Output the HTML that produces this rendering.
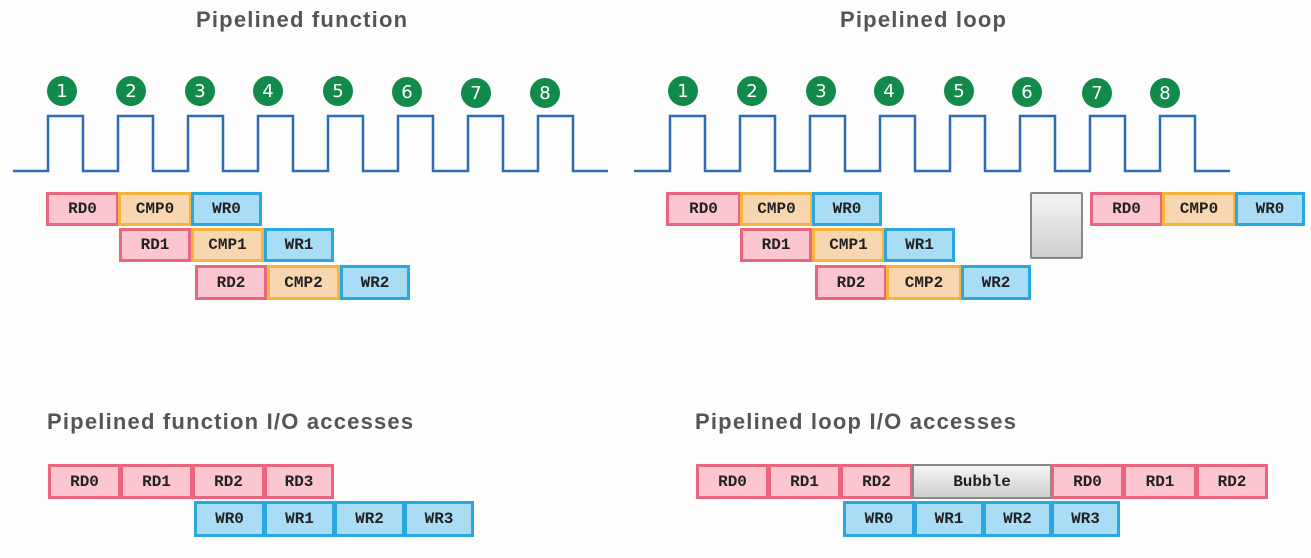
<!DOCTYPE html>
<html><head><meta charset="utf-8"><style>
body{margin:0;width:1311px;height:558px;background:#fdfdfd;position:relative;overflow:hidden;font-family:"Liberation Sans",sans-serif}
.t{position:absolute;font-weight:bold;font-size:22px;letter-spacing:1.2px;color:#555;white-space:nowrap}
.b{position:absolute;box-sizing:border-box;border:3px solid;display:flex;align-items:center;justify-content:center;font-family:"Liberation Mono",monospace;font-weight:bold;font-size:16px;color:#222}
.r{background:#fcc6d0;border-color:#ea6680}
.o{background:#f8d6b0;border-color:#f7b43a}
.w{background:#a9dcf5;border-color:#2aa6e0}
.g{background:linear-gradient(#f4f4f4,#cfcfcf);border:2px solid #888;border-radius:2px}
</style></head><body>
<div class="t" style="left:196px;top:7px">Pipelined function</div>
<div class="t" style="left:840px;top:7px">Pipelined loop</div>
<div class="t" style="left:47px;top:409px">Pipelined function I/O accesses</div>
<div class="t" style="left:695px;top:409px">Pipelined loop I/O accesses</div>
<svg width="1311" height="558" style="position:absolute;left:0;top:0">
<g fill="none" stroke="#2f6db0" stroke-width="2.5">
<path d="M13 171 H48 V116 H83 V171 H118 V116 H153 V171 H188 V116 H223 V171 H258 V116 H293 V171 H328 V116 H363 V171 H398 V116 H433 V171 H468 V116 H503 V171 H538 V116 H573 V171 H608"/>
<path d="M634 171 H670 V116 H705 V171 H740 V116 H775 V171 H810 V116 H845 V171 H880 V116 H915 V171 H950 V116 H985 V171 H1020 V116 H1055 V171 H1090 V116 H1125 V171 H1160 V116 H1195 V171 H1230"/>
</g>
<g fill="#118a4a">
<circle cx="62" cy="91" r="15"/><circle cx="131" cy="91" r="15"/><circle cx="200" cy="91" r="15"/><circle cx="268" cy="91" r="15"/><circle cx="338" cy="91" r="15"/><circle cx="407" cy="92" r="15"/><circle cx="476" cy="93" r="15"/><circle cx="545" cy="93" r="15"/>
<circle cx="683" cy="91" r="15"/><circle cx="752" cy="91" r="15"/><circle cx="821" cy="91" r="15"/><circle cx="889" cy="91" r="15"/><circle cx="959" cy="91" r="15"/><circle cx="1027" cy="92" r="15"/><circle cx="1097" cy="93" r="15"/><circle cx="1165" cy="93" r="15"/>
</g>
<g fill="#fff" font-family="DejaVu Sans,sans-serif" font-size="18" text-anchor="middle">
<text x="62" y="97">1</text><text x="131" y="97">2</text><text x="200" y="97">3</text><text x="268" y="97">4</text><text x="338" y="97">5</text><text x="407" y="98">6</text><text x="476" y="99">7</text><text x="545" y="99">8</text>
<text x="683" y="97">1</text><text x="752" y="97">2</text><text x="821" y="97">3</text><text x="889" y="97">4</text><text x="959" y="97">5</text><text x="1027" y="98">6</text><text x="1097" y="99">7</text><text x="1165" y="99">8</text>
</g>
</svg>
<div class="b r" style="left:46px;top:192px;width:73px;height:34px">RD0</div>
<div class="b o" style="left:118px;top:192px;width:74px;height:34px">CMP0</div>
<div class="b w" style="left:191px;top:192px;width:71px;height:34px">WR0</div>
<div class="b r" style="left:119px;top:228px;width:72px;height:34px">RD1</div>
<div class="b o" style="left:191px;top:228px;width:73px;height:34px">CMP1</div>
<div class="b w" style="left:264px;top:228px;width:70px;height:34px">WR1</div>
<div class="b r" style="left:195px;top:265px;width:72px;height:35px">RD2</div>
<div class="b o" style="left:267px;top:265px;width:73px;height:35px">CMP2</div>
<div class="b w" style="left:340px;top:265px;width:70px;height:35px">WR2</div>
<div class="b r" style="left:666px;top:192px;width:75px;height:34px">RD0</div>
<div class="b o" style="left:740px;top:192px;width:73px;height:34px">CMP0</div>
<div class="b w" style="left:812px;top:192px;width:70px;height:34px">WR0</div>
<div class="b r" style="left:740px;top:228px;width:72px;height:34px">RD1</div>
<div class="b o" style="left:812px;top:228px;width:73px;height:34px">CMP1</div>
<div class="b w" style="left:884px;top:228px;width:71px;height:34px">WR1</div>
<div class="b r" style="left:815px;top:265px;width:72px;height:35px">RD2</div>
<div class="b o" style="left:886px;top:265px;width:76px;height:35px">CMP2</div>
<div class="b w" style="left:961px;top:265px;width:70px;height:35px">WR2</div>
<div class="b g" style="left:1030px;top:192px;width:53px;height:67px"></div>
<div class="b r" style="left:1090px;top:192px;width:73px;height:34px">RD0</div>
<div class="b o" style="left:1162px;top:192px;width:74px;height:34px">CMP0</div>
<div class="b w" style="left:1235px;top:192px;width:70px;height:34px">WR0</div>
<div class="b r" style="left:48px;top:464px;width:73px;height:35px">RD0</div>
<div class="b r" style="left:120px;top:464px;width:73px;height:35px">RD1</div>
<div class="b r" style="left:192px;top:464px;width:73px;height:35px">RD2</div>
<div class="b r" style="left:264px;top:464px;width:70px;height:35px">RD3</div>
<div class="b w" style="left:194px;top:501px;width:71px;height:36px">WR0</div>
<div class="b w" style="left:264px;top:501px;width:71px;height:36px">WR1</div>
<div class="b w" style="left:334px;top:501px;width:71px;height:36px">WR2</div>
<div class="b w" style="left:404px;top:501px;width:70px;height:36px">WR3</div>
<div class="b r" style="left:696px;top:464px;width:73px;height:35px">RD0</div>
<div class="b r" style="left:768px;top:464px;width:73px;height:35px">RD1</div>
<div class="b r" style="left:840px;top:464px;width:73px;height:35px">RD2</div>
<div class="b g" style="left:912px;top:464px;width:140px;height:35px">Bubble</div>
<div class="b r" style="left:1051px;top:464px;width:73px;height:35px">RD0</div>
<div class="b r" style="left:1123px;top:464px;width:74px;height:35px">RD1</div>
<div class="b r" style="left:1196px;top:464px;width:72px;height:35px">RD2</div>
<div class="b w" style="left:843px;top:501px;width:72px;height:36px">WR0</div>
<div class="b w" style="left:914px;top:501px;width:70px;height:36px">WR1</div>
<div class="b w" style="left:983px;top:501px;width:69px;height:36px">WR2</div>
<div class="b w" style="left:1051px;top:501px;width:69px;height:36px">WR3</div>
</body></html>
